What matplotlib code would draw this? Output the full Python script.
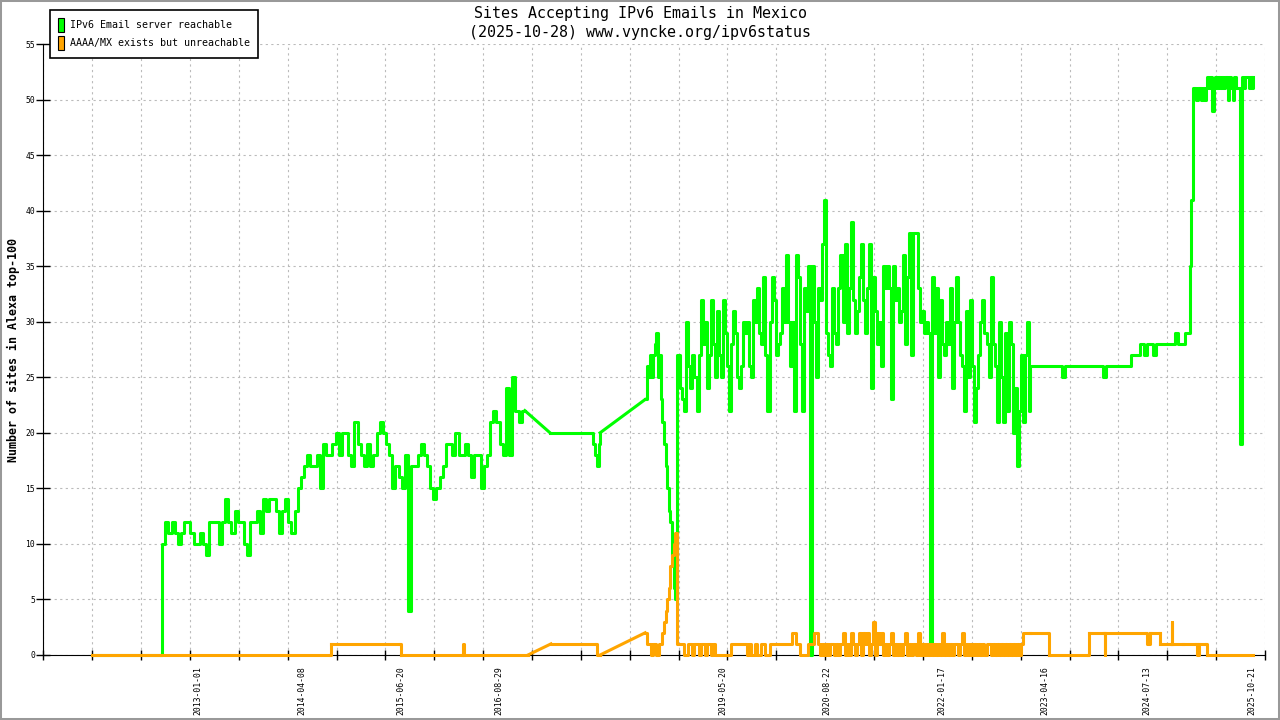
import numpy as np
import pandas as pd
import matplotlib
matplotlib.use("Agg")
import matplotlib.pyplot as plt
import matplotlib.dates as mdates
from matplotlib.patches import Patch, Rectangle

GREEN = "#00ff00"
ORANGE = "#ffa500"

# blocks are (first date, days between samples, values); lists are loose (date, value) points
green_start = [("2011-09-19", 0), ("2012-07-22", 0)]
green_2012 = ("2012-07-25", 14, [
    10, 12, 11, 12, 11, 10, 11, 12, 12, 11,
    10, 10, 11, 10, 9, 12, 12, 12, 10, 12,
    14, 12, 11, 13, 12, 12, 10, 9, 12, 12,
    13, 11, 14, 13, 14, 14, 13, 11, 13, 14,
    12, 11, 13, 15, 16, 17, 18, 17, 17, 18,
    15, 19, 18, 18, 19, 20, 18, 20, 20, 18,
    17, 21, 19, 18, 17, 19, 17, 18, 20, 21,
    20, 19, 18, 15, 17, 16, 15, 18, 4, 17,
    17, 18, 19, 18, 17, 15, 14, 15, 16, 17,
    19, 19, 18, 20, 18, 18, 19, 18, 16, 18,
    18, 15, 17, 18, 21, 22, 21, 19, 18, 24,
    18, 25, 22, 21, 22, 22])
green_2017 = [("2017-04-12", 20), ("2017-10-15", 20), ("2017-10-20", 19),
              ("2017-10-29", 18), ("2017-11-07", 17), ("2017-11-15", 19),
              ("2017-11-20", 20)]
green_2018 = ("2018-06-08", 7, [
    23, 26, 25, 27, 25, 27, 28, 29, 25, 27,
    23, 21, 19, 17, 15, 13, 12, 9, 6, 5, 27])
green_2019 = ("2018-11-02", 9, [
    27, 24, 23, 22, 30, 26, 24, 27, 25, 22,
    27, 32, 28, 30, 24, 27, 32, 28, 25, 31,
    27, 25, 32, 29, 26, 22, 28, 31, 29, 25,
    24, 26, 30, 29, 30, 26, 25, 32, 30, 33,
    29, 28, 34, 27, 22, 30, 34, 32, 27, 28,
    29, 33, 30, 36, 30, 26, 30, 22, 36, 34,
    28, 22, 33, 31, 35, 0, 35, 30, 25, 33,
    32, 37, 41, 29, 27, 26, 33, 29, 28, 33,
    36, 30, 37, 29, 33, 39, 32, 29, 31, 34,
    37, 32, 29, 33, 37, 24, 34, 31, 28, 30,
    26, 35, 33, 35, 33, 23, 35, 32, 33, 30,
    31, 36, 28, 34, 38, 27, 38, 38, 33, 30,
    31, 29, 30, 29, 1, 34, 29, 33, 25, 32,
    28, 27, 30, 28, 33, 24, 30, 34, 30, 27,
    26, 22, 31, 25, 32, 26, 21, 24, 27, 30,
    32, 29, 28, 25, 34, 28, 26, 21, 30, 25,
    21, 29, 22, 30, 28, 20, 24, 17, 22, 27,
    21, 27, 30, 22])
green_2023 = ("2023-02-10", 14, [
    26, 26, 26, 26, 26, 26, 26, 26, 26, 26,
    25, 26, 26, 26, 26, 26, 26, 26, 26, 26,
    26, 26, 26, 25, 26, 26, 26, 26, 26, 26,
    26, 26, 27, 27, 27, 28, 27, 28, 28, 27,
    28, 28, 28, 28, 28, 28, 29, 28, 28, 29, 29])
green_jump = ("2025-01-14", 3, [29, 29, 35, 36, 41, 41, 41, 51, 51])
green_2025 = ("2025-02-10", 7, [
    51, 50, 51, 51, 50, 51, 50, 51, 52, 51,
    52, 49, 51, 52, 51, 52, 51, 52, 51, 52,
    52, 50, 52, 51, 50, 52, 51])
green_dip = ("2025-08-26", 2, [51, 36, 35, 19, 19, 19, 51])
green_end = ("2025-09-09", 7, [52, 51, 52, 52, 51, 52, 51, 52])

orange_start = [("2011-09-19", 0), ("2014-08-09", 0), ("2014-08-12", 1),
                ("2015-06-16", 1), ("2015-06-19", 0), ("2016-03-19", 0),
                ("2016-03-21", 1), ("2016-03-24", 0), ("2017-01-04", 0),
                ("2017-04-16", 1), ("2017-11-02", 1), ("2017-11-07", 0),
                ("2017-11-20", 0)]
orange_2018 = ("2018-06-08", 7, [
    2, 1, 1, 1, 0, 1, 1, 0, 0, 1,
    1, 2, 3, 4, 5, 6, 8, 9, 10, 11, 1])
orange_2019 = ("2018-11-02", 9, [
    1, 1, 1, 0, 0, 1, 1, 0, 1, 1,
    0, 1, 1, 0, 1, 1, 0, 1, 0, 0,
    0, 0, 0, 0, 0, 0, 1, 1, 1, 1,
    1, 1, 1, 1, 0, 1, 0, 0, 1, 0,
    0, 1, 1, 0, 0, 1, 1, 1, 1, 1,
    1, 1, 1, 1, 1, 1, 2, 2, 1, 1,
    0, 0, 0, 0, 1, 1, 1, 2, 2, 1,
    0, 1, 0, 1, 0, 1, 1, 0, 1, 0,
    1, 2, 0, 1, 0, 2, 1, 0, 1, 2,
    0, 2, 1, 2, 0, 1, 3, 0, 2, 1,
    2, 0, 1, 0, 1, 2, 0, 1, 0, 1,
    0, 1, 2, 0, 1, 0, 1, 0, 2, 0,
    1, 0, 1, 0, 1, 0, 1, 0, 1, 0,
    2, 0, 1, 0, 1, 0, 1, 1, 0, 1,
    2, 0, 1, 0, 1, 0, 1, 0, 1, 0,
    1, 0, 1, 1, 0, 1, 0, 1, 0, 1,
    0, 1, 0, 1, 0, 1, 0, 1, 0, 1,
    2, 2, 2, 2])
orange_end = [("2023-02-10", 2), ("2023-04-30", 2), ("2023-05-04", 0),
              ("2023-10-26", 0), ("2023-10-30", 2), ("2024-01-04", 2),
              ("2024-01-07", 0), ("2024-01-10", 2), ("2024-07-10", 2),
              ("2024-07-13", 1), ("2024-07-24", 1), ("2024-07-27", 2),
              ("2024-09-08", 2), ("2024-09-11", 1), ("2024-10-28", 1),
              ("2024-10-31", 3), ("2024-11-03", 1), ("2024-12-19", 1),
              ("2025-02-17", 1), ("2025-02-19", 0), ("2025-02-26", 0),
              ("2025-02-28", 1), ("2025-04-03", 1), ("2025-04-06", 0),
              ("2025-10-28", 0)]

x_labels = ["2013-01-01", "2014-04-08", "2015-06-20", "2016-08-29",
            "2019-05-20", "2020-08-22", "2022-01-17", "2023-04-16",
            "2024-07-13", "2025-10-21"]
x_range = ("2011-02-14", "2025-12-19")
y_ticks = list(range(0, 56, 5))


def series(*parts):
    xs, ys = [], []
    for p in parts:
        if isinstance(p, tuple):
            start, step, vals = p
            d = pd.Timestamp(start) + pd.to_timedelta(np.arange(len(vals)) * step, unit="D")
            xs += list(d)
            ys += list(vals)
        else:
            xs += [pd.Timestamp(a) for a, _ in p]
            ys += [b for _, b in p]
    return mdates.date2num(xs), np.array(ys, dtype=float)


def draw(ax, x, y, **kw):
    # sampled runs are drawn as steps, long gaps in the data as straight joins
    gaps = np.where(np.diff(x) > 30)[0]
    cuts = [0] + list(gaps + 1) + [len(x)]
    for a, b in zip(cuts[:-1], cuts[1:]):
        ax.plot(x[a:b], y[a:b], drawstyle="steps-post", **kw)
    for g in gaps:
        ax.plot(x[g:g + 2], y[g:g + 2], **kw)


gx, gy = series(green_start, green_2012, green_2017, green_2018, green_2019,
                green_2023, green_jump, green_2025, green_dip, green_end)
ox, oy = series(orange_start, orange_2018, orange_2019, orange_end)

plt.rcParams["font.family"] = ["DejaVu Sans Mono"]

fig = plt.figure(figsize=(12.8, 7.2), dpi=100)
ax = fig.add_axes([43.3 / 1280, 1 - 655 / 720, (1265 - 43.3) / 1280, 611 / 720])

draw(ax, gx, gy, color=GREEN, lw=2.2, zorder=3, clip_on=False)
draw(ax, ox, oy, color=ORANGE, lw=2.2, zorder=4, clip_on=False)

x0, x1 = mdates.datestr2num(x_range[0]), mdates.datestr2num(x_range[1])
ax.set_xlim(x0, x1)
ax.set_ylim(0, 55)

ax.set_xticks(np.linspace(x0, x1, 26))
ax.set_xticklabels([])
ax.set_xticks(mdates.datestr2num(x_labels), minor=True)
ax.set_xticklabels(x_labels, minor=True)
ax.tick_params(axis="x", which="major", direction="inout", length=7, width=1)
ax.tick_params(axis="x", which="minor", length=0, pad=8, labelsize=5.9,
               labelrotation=90)
ax.set_yticks(y_ticks)
ax.tick_params(axis="y", direction="inout", length=10, width=1, labelsize=5.8, pad=1)

ax.grid(True, which="major", color="#bbbbbb", linestyle=(0, (2, 3)), lw=0.8)
ax.set_axisbelow(True)
for s in ("top", "right"):
    ax.spines[s].set_visible(False)

fig.text(13 / 1280, 1 - 350 / 720, "Number of sites in Alexa top-100",
         rotation=90, ha="center", va="center", fontsize=8.4, fontweight="bold")

fig.text(0.5, 1 - 6 / 720,
         "Sites Accepting IPv6 Emails in Mexico\n(2025-10-28) www.vyncke.org/ipv6status",
         ha="center", va="top", fontsize=10.8, linespacing=1.35)

handles = [Patch(facecolor=GREEN, edgecolor="black", lw=0.8,
                 label="IPv6 Email server reachable"),
           Patch(facecolor=ORANGE, edgecolor="black", lw=0.8,
                 label="AAAA/MX exists but unreachable")]
leg = ax.legend(handles=handles, loc="upper left",
                bbox_to_anchor=(50 / 1280, 1 - 10 / 720),
                bbox_transform=fig.transFigure, fancybox=False,
                edgecolor="black", framealpha=1, fontsize=7.2,
                handlelength=0.6, handleheight=1.7, handletextpad=0.55,
                labelspacing=0.45, borderpad=0.8, borderaxespad=0)
leg.get_frame().set_linewidth(1.2)

fig.patches.append(Rectangle((0, 0), 1, 1, transform=fig.transFigure,
                             fill=False, edgecolor="#999999", lw=2.9))

fig.savefig("out.png", dpi=100)
